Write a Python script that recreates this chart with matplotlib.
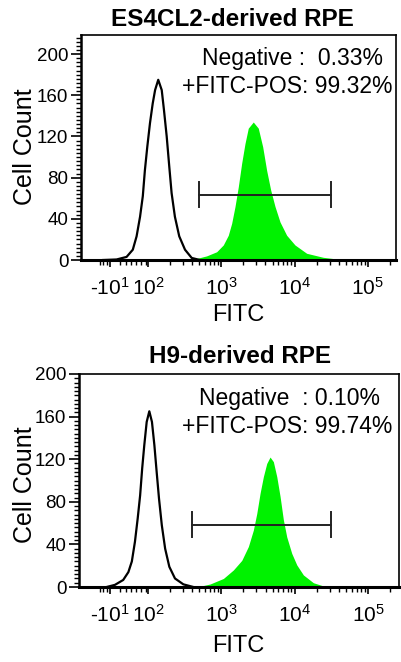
import matplotlib
matplotlib.use("Agg")
import matplotlib.pyplot as plt
from matplotlib.ticker import FixedLocator, MultipleLocator
import numpy as np

plt.rcParams['font.family'] = ['Liberation Sans', 'DejaVu Sans']
plt.rcParams['mathtext.fontset'] = 'custom'
plt.rcParams['mathtext.rm'] = 'Liberation Sans'

# ---------------- data ----------------
titles = ["ES4CL2-derived RPE", "H9-derived RPE"]
neg_text = ["Negative :  0.33%", "Negative  : 0.10%"]
pos_text = ["+FITC-POS: 99.32%", "+FITC-POS: 99.74%"]

# top panel: unstained control (outline)
ctrl1_x = [-30, 9, 38, 56, 67, 77, 85, 91, 98, 106.5, 116, 125, 138, 154, 165, 180,
           195, 210, 233, 267, 320, 395, 512]
ctrl1_y = [0, 0.5, 3, 10, 23, 42, 62, 87, 110, 133, 152, 165, 175, 165, 146, 120,
           91, 65, 42, 23, 10, 2, 0]
# top panel: stained (green filled)
stain1_x = [374, 462, 632, 865, 1065, 1246, 1386, 1538, 1706, 1898, 2105, 2335, 2733,
            3198, 3672, 4160, 4720, 5405, 6324, 7800, 10120, 14620, 24640, 37500, 48700]
stain1_y = [0, 1.5, 4, 8, 14.6, 24, 35.6, 51.8, 71, 94, 113, 128, 134,
            128, 110, 87, 68, 52, 37, 24, 14.6, 6.5, 2.6, 1, 0]

# bottom panel
ctrl2_x = [-20, 4, 28, 43, 53, 62, 70, 77, 83, 89, 96, 104, 113, 122, 131, 141, 154,
           171, 195, 233, 303, 415]
ctrl2_y = [0, 2, 6.6, 14, 24, 42.5, 64.5, 86, 111.5, 133, 155, 165, 155, 133, 108,
           83, 58, 36, 19, 8, 2.5, 0]
stain2_x = [462, 701, 1065, 1458, 1898, 2335, 2733, 3040, 3373, 3741, 4160, 4616, 5120,
            5700, 6324, 7015, 7800, 9120, 10690, 13150, 18000, 24640, 30400]
stain2_y = [0, 2.8, 8, 16, 25, 38, 53.5, 69, 88, 103.6, 116, 122, 117.7,
            103.6, 85, 63, 47, 31.6, 20.7, 11.3, 4, 1, 0]

# gates (x range, y level, cap span)
gate_x = [(496, 31400), (402, 31400)]
gate_y = [63.5, 58]
gate_cap = [(51.5, 76), (47, 70)]

xlims = [(-94, 2.42e5), (-100, 2.65e5)]
ylims = [(0, 218.5), (0, 200)]
yticks = [0, 40, 80, 120, 160, 200]
xticks = [-10, 100, 1000, 10000, 100000]
xticklabels = ["-$\\mathregular{10^{1}}$", "$\\mathregular{10^{2}}$", "$\\mathregular{10^{3}}$",
               "$\\mathregular{10^{4}}$", "$\\mathregular{10^{5}}$"]
xminor = ([-40, -30, -20] + [20, 35, 50, 65, 80, 95] +
          [m * 10 ** e for e in (2, 3, 4) for m in range(2, 10)] + [200000])

green = '#00f200'

fig = plt.figure(figsize=(4.01, 6.62), dpi=100)
W, H = 401, 662
# axes boxes in pixels: left, top, right, bottom
boxes = [(81, 35, 396, 260), (79, 374, 399, 587)]
title_pos = [(232, 26), (240, 363)]
text_pos = [((202, 65), (182, 93)), ((199, 405), (182, 433))]
ylab_pos = [(25, 147), (25, 485)]
xlab_pos = [(238, 321), (238, 652)]

data = [(ctrl1_x, ctrl1_y, stain1_x, stain1_y), (ctrl2_x, ctrl2_y, stain2_x, stain2_y)]

for i in range(2):
    l, t, r, b = boxes[i]
    ax = fig.add_axes([l / W, 1 - b / H, (r - l) / W, (b - t) / H])
    ax.set_xscale('symlog', linthresh=100, linscale=0.424)
    cx, cy, sx, sy = data[i]
    ax.fill_between(sx, sy, 0, color=green, lw=0, zorder=2)
    ax.plot(cx, cy, color='black', lw=1.6, zorder=3)
    g0, g1 = gate_x[i]
    ax.plot([g0, g1], [gate_y[i], gate_y[i]], color='#222222', lw=1.4, zorder=4)
    for gx in (g0, g1):
        ax.plot([gx, gx], list(gate_cap[i]), color='#222222', lw=1.4, zorder=4)
    ax.set_xlim(*xlims[i])
    ax.set_ylim(*ylims[i])
    ax.set_xticks(xticks)
    ax.set_xticklabels(xticklabels, fontsize=15)
    ax.xaxis.set_minor_locator(FixedLocator(xminor))
    ax.set_yticks(yticks)
    ax.set_yticklabels([str(v) for v in yticks], fontsize=13.5)
    ax.yaxis.set_minor_locator(MultipleLocator(4))
    ax.tick_params(axis='x', which='major', length=5, width=1.2, pad=7, direction='out')
    ax.tick_params(axis='x', which='minor', length=3.5, width=1.0, direction='out')
    ax.tick_params(axis='y', which='major', length=7, width=1.2, pad=2, direction='out')
    ax.tick_params(axis='y', which='minor', length=3.5, width=1.0, direction='out')
    ax.spines['bottom'].set_linewidth(2.2)
    ax.spines['left'].set_linewidth(1.8)
    ax.spines['top'].set_linewidth(1.2)
    ax.spines['right'].set_linewidth(1.2)

    tx, ty = title_pos[i]
    fig.text(tx / W, 1 - ty / H, titles[i], ha='center', va='baseline',
             fontsize=17.5, fontweight='bold')
    (n_x, n_y), (p_x, p_y) = text_pos[i]
    fig.text(n_x / W, 1 - n_y / H, neg_text[i], ha='left', va='baseline', fontsize=16.5)
    fig.text(p_x / W, 1 - p_y / H, pos_text[i], ha='left', va='baseline', fontsize=16.5)
    yx, yy = ylab_pos[i]
    fig.text(yx / W, 1 - yy / H, "Cell Count", rotation=90, ha='center', va='center',
             fontsize=18)
    lx, ly = xlab_pos[i]
    fig.text(lx / W, 1 - ly / H, "FITC", ha='center', va='baseline', fontsize=17)

fig.savefig('out.png', dpi=100)
